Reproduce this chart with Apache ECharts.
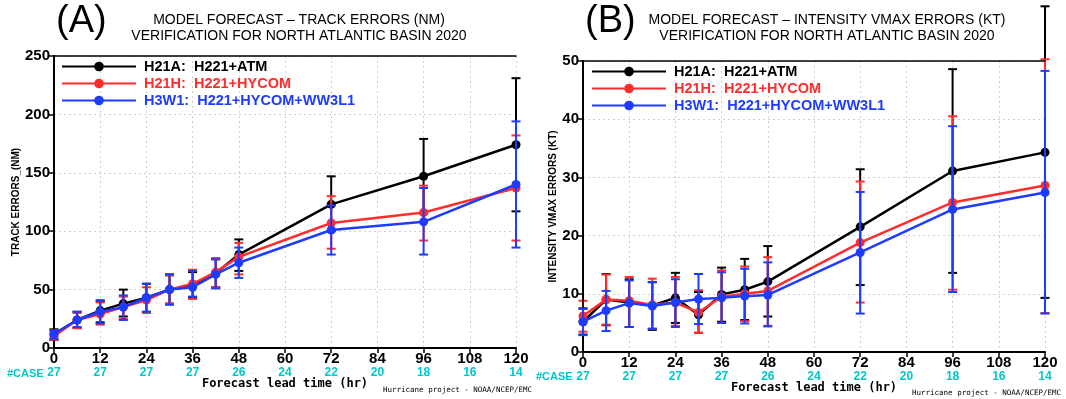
<!DOCTYPE html>
<html><head><meta charset="utf-8">
<script src="https://cdn.jsdelivr.net/npm/echarts@6/dist/echarts.min.js"></script>
<style>html,body{margin:0;padding:0;background:#fff}#c{width:1066px;height:399px}</style>
</head><body><div id="c"></div>
<script>
const hours = [0, 6, 12, 18, 24, 30, 36, 42, 48, 72, 96, 120];
const caseTicks = [0, 12, 24, 36, 48, 60, 72, 84, 96, 108, 120];
const caseCounts = [27, 27, 27, 27, 26, 24, 22, 20, 18, 16, 14];
const seriesNames = ['H21A:  H221+ATM', 'H21H:  H221+HYCOM', 'H3W1:  H221+HYCOM+WW3L1'];

// Track errors (NM)
const trackH21A = [12, 24, 32, 38, 43, 50, 53, 64, 80, 123, 147, 174];
const trackH21H = [10, 24, 29, 35, 41, 50, 55, 65, 78, 107, 116, 137];
const trackH3W1 = [12, 24, 31, 35, 43, 50, 52, 63, 73, 101, 108, 140];
const trackH21ALo = [7, 17, 22, 27, 31, 38, 43, 52, 66, 100, 115, 117];
const trackH21AHi = [16, 31, 40, 50, 55, 63, 65, 76, 93, 147, 179, 231];
const trackH21HLo = [7, 17, 20, 25, 30, 38, 42, 52, 63, 85, 92, 92];
const trackH21HHi = [15, 30, 39, 44, 52, 62, 67, 77, 90, 130, 139, 182];
const trackH3W1Lo = [8, 18, 21, 24, 31, 37, 44, 51, 60, 80, 80, 86];
const trackH3W1Hi = [15, 31, 41, 45, 55, 63, 66, 76, 86, 122, 137, 194];

// Intensity Vmax errors (KT)
const vmaxH21A = [5.2, 9.0, 8.5, 8.0, 9.3, 6.4, 9.9, 10.7, 12.1, 21.5, 31.1, 34.3];
const vmaxH21H = [6.2, 9.0, 8.8, 8.1, 8.5, 6.8, 9.5, 10.0, 10.5, 18.8, 25.7, 28.6];
const vmaxH3W1 = [5.2, 7.1, 8.4, 7.9, 8.5, 9.1, 9.3, 9.6, 9.8, 17.1, 24.5, 27.4];
const vmaxH21ALo = [3.0, 4.6, 4.3, 3.8, 5.0, 3.3, 5.2, 5.5, 6.1, 11.5, 13.6, 9.3];
const vmaxH21AHi = [7.5, 13.4, 12.5, 12.0, 13.6, 10.3, 14.5, 16.0, 18.2, 31.4, 48.6, 59.4];
const vmaxH21HLo = [3.5, 4.7, 4.3, 4.0, 4.5, 3.3, 5.0, 5.3, 4.5, 8.5, 10.7, 6.7];
const vmaxH21HHi = [8.8, 13.3, 12.9, 12.6, 12.9, 10.6, 14.0, 14.7, 16.3, 29.3, 40.5, 50.3];
const vmaxH3W1Lo = [2.9, 3.6, 4.3, 4.0, 4.3, 4.8, 5.0, 4.9, 4.4, 6.6, 10.3, 6.6];
const vmaxH3W1Hi = [7.4, 10.5, 12.3, 12.0, 12.5, 13.4, 13.7, 14.3, 15.4, 27.5, 38.8, 48.3];

const colors = ['#000000', '#ff2d2d', '#1e3cff'];
const FONT = 'Liberation Sans, Arial, sans-serif';

function pairs(vals) { return hours.map((h, i) => [h, vals[i]]); }
function bars(lo, hi) { return hours.map((h, i) => [h, lo[i], hi[i]]); }

function errSeries(idx, name, lo, hi, color, z) {
  return {
    type: 'custom', name: name, xAxisIndex: idx, yAxisIndex: idx, z: z, clip: false,
    data: bars(lo, hi),
    renderItem: function (params, api) {
      const p1 = api.coord([api.value(0), api.value(1)]);
      const p2 = api.coord([api.value(0), api.value(2)]);
      const w = 4.5;
      const st = { stroke: color, lineWidth: 2 };
      return { type: 'group', children: [
        { type: 'line', shape: { x1: p1[0], y1: p1[1], x2: p2[0], y2: p2[1] }, style: st },
        { type: 'line', shape: { x1: p1[0] - w, y1: p1[1], x2: p1[0] + w, y2: p1[1] }, style: st },
        { type: 'line', shape: { x1: p2[0] - w, y1: p2[1], x2: p2[0] + w, y2: p2[1] }, style: st }
      ]};
    }
  };
}
function lineSeries(idx, name, vals, color, z) {
  return {
    type: 'line', name: name, xAxisIndex: idx, yAxisIndex: idx, z: z,
    data: pairs(vals), symbol: 'circle', symbolSize: 9,
    lineStyle: { color: color, width: 2.5 }, itemStyle: { color: color },
    animation: false
  };
}

const xAxisBase = (gi) => ({
  type: 'value', gridIndex: gi, min: 0, max: 120, interval: 12,
  axisLine: { lineStyle: { color: '#000', width: 2 } },
  axisTick: { show: true, length: 5, lineStyle: { color: '#000', width: 1.5 } },
  axisLabel: { color: '#000', fontFamily: FONT, fontWeight: 'bold', fontSize: 15, margin: 3 },
  splitLine: { show: true, lineStyle: { color: '#cfcfcf', type: [2, 3], width: 1 } },
  name: 'Forecast lead time (hr)', nameLocation: 'middle', nameGap: 30,
  nameTextStyle: { fontFamily: 'DejaVu Sans Mono, monospace', fontWeight: 'bold', fontSize: 12, color: '#000' }
});
const caseAxis = (gi) => ({
  type: 'value', gridIndex: gi, min: 0, max: 120, interval: 12, position: 'bottom', offset: 13,
  axisLine: { show: false }, axisTick: { show: false }, splitLine: { show: false },
  axisLabel: { color: '#00c8c8', fontFamily: FONT, fontWeight: 'bold', fontSize: 12, margin: 6,
    formatter: (v) => { const k = caseTicks.indexOf(v); return k >= 0 ? String(caseCounts[k]) : ''; } }
});
const frameX = (gi) => ({
  type: 'value', gridIndex: gi, min: 0, max: 120, position: 'top', z: 5,
  axisLine: { show: true, lineStyle: { color: '#000', width: 1.5 } },
  axisTick: { show: false }, axisLabel: { show: false }, splitLine: { show: false }
});
const yAxisBase = (gi, max, interval, name, gap) => ({
  type: 'value', gridIndex: gi, min: 0, max: max, interval: interval,
  axisLine: { show: true, lineStyle: { color: '#000', width: 2 } },
  axisTick: { show: true, length: 5, lineStyle: { color: '#000', width: 1.5 } },
  axisLabel: { color: '#000', fontFamily: FONT, fontWeight: 'bold', fontSize: 15, margin: 4 },
  splitLine: { show: true, lineStyle: { color: '#cfcfcf', type: [2, 3], width: 1 } },
  name: name, nameLocation: 'middle', nameGap: gap, nameRotate: 90,
  nameTextStyle: { fontFamily: FONT, fontWeight: 'bold', fontSize: 10, color: '#000' }
});
const frameY = (gi, max) => ({
  type: 'value', gridIndex: gi, min: 0, max: max, position: 'right', z: 5,
  axisLine: { show: true, lineStyle: { color: '#000', width: 1.5 } },
  axisTick: { show: false }, axisLabel: { show: false }, splitLine: { show: false }
});

const legendData = seriesNames.map((n, i) => ({ name: n, textStyle: { color: colors[i] } }));
const legendBase = (left, top) => ({
  left: left, top: top, orient: 'vertical', itemWidth: 74, itemHeight: 12, itemGap: 2,
  data: legendData, selectedMode: false,
  textStyle: { fontFamily: FONT, fontWeight: 'bold', fontSize: 14.5, padding: [0, 0, 0, 3] }
});
const titleText = (text, center) => ({
  text: text, left: center, top: 7, textAlign: 'center',
  textStyle: { fontFamily: FONT, fontWeight: 'normal', fontSize: 14, lineHeight: 16, color: '#000', align: 'center' }
});

const option = {
  animation: false,
  backgroundColor: '#fff',
  title: [
    { text: '(A)', left: 51, top: -2, textStyle: { fontFamily: FONT, fontWeight: 'normal', fontSize: 38, color: '#000' } },
    titleText('MODEL FORECAST – TRACK ERRORS (NM)\nVERIFICATION FOR NORTH ATLANTIC BASIN 2020', 294),
    { text: '(B)', left: 580, top: -2, textStyle: { fontFamily: FONT, fontWeight: 'normal', fontSize: 38, color: '#000' } },
    titleText('MODEL FORECAST – INTENSITY VMAX ERRORS (KT)\nVERIFICATION FOR NORTH ATLANTIC BASIN 2020', 822)
  ],
  legend: [legendBase(56, 54), legendBase(586, 59)],
  grid: [
    { left: 54, top: 56, width: 462, height: 292 },
    { left: 583, top: 61, width: 462, height: 291 }
  ],
  xAxis: [xAxisBase(0), xAxisBase(1), caseAxis(0), caseAxis(1), frameX(0), frameX(1)],
  yAxis: [yAxisBase(0, 250, 50, 'TRACK ERRORS_(NM)', 23), yAxisBase(1, 50, 10, 'INTENSITY VMAX ERRORS (KT)', 23), frameY(0, 250), frameY(1, 50)],
  graphic: [
    { type: 'text', left: 7, top: 368, style: { text: '#CASE', fontFamily: FONT, fontWeight: 'bold', fontSize: 11, fill: '#00c8c8' } },
    { type: 'text', left: 536, top: 371, style: { text: '#CASE', fontFamily: FONT, fontWeight: 'bold', fontSize: 11, fill: '#00c8c8' } },
    { type: 'text', left: 383, top: 386, style: { text: 'Hurricane project - NOAA/NCEP/EMC', fontFamily: 'DejaVu Sans Mono, monospace', fontSize: 7.5, fill: '#000' } },
    { type: 'text', left: 912, top: 389, style: { text: 'Hurricane project - NOAA/NCEP/EMC', fontFamily: 'DejaVu Sans Mono, monospace', fontSize: 7.5, fill: '#000' } }
  ],
  series: [
    errSeries(0, 'e0', trackH21ALo, trackH21AHi, colors[0], 2),
    lineSeries(0, seriesNames[0], trackH21A, colors[0], 3),
    errSeries(0, 'e1', trackH21HLo, trackH21HHi, colors[1], 4),
    lineSeries(0, seriesNames[1], trackH21H, colors[1], 5),
    errSeries(0, 'e2', trackH3W1Lo, trackH3W1Hi, colors[2], 6),
    lineSeries(0, seriesNames[2], trackH3W1, colors[2], 7),
    errSeries(1, 'f0', vmaxH21ALo, vmaxH21AHi, colors[0], 2),
    lineSeries(1, seriesNames[0], vmaxH21A, colors[0], 3),
    errSeries(1, 'f1', vmaxH21HLo, vmaxH21HHi, colors[1], 4),
    lineSeries(1, seriesNames[1], vmaxH21H, colors[1], 5),
    errSeries(1, 'f2', vmaxH3W1Lo, vmaxH3W1Hi, colors[2], 6),
    lineSeries(1, seriesNames[2], vmaxH3W1, colors[2], 7)
  ]
};
const chart = echarts.init(document.getElementById('c'), null, { renderer: 'canvas' });
chart.setOption(option);
</script>
</body></html>
